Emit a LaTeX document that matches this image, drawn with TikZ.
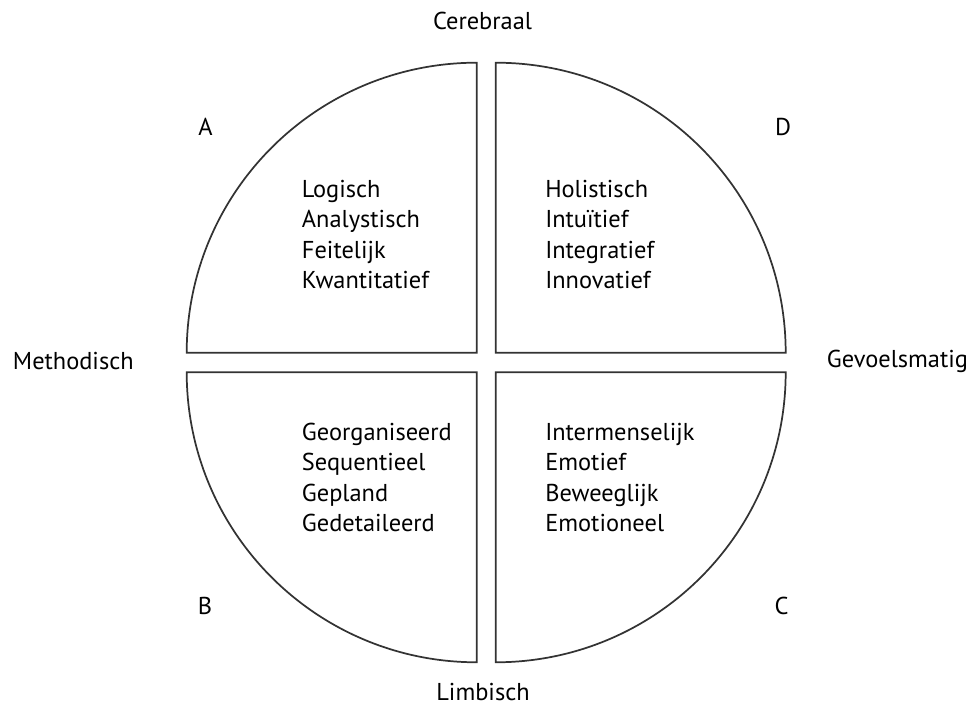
\documentclass[tikz,border=0pt]{standalone}
\usepackage{fontspec}
\setmainfont{PT Sans}
\begin{document}
\begin{tikzpicture}[x=0.75pt,y=0.75pt,
  quad/.style={draw=black!80,line width=1.3pt},
  lst/.style={anchor=north west,inner sep=0pt,align=left,font=\fontsize{18.3}{22.7}\selectfont},
  lbl/.style={anchor=base,inner sep=0pt,font=\fontsize{18.3}{21}\selectfont}]
\useasboundingbox (0,0) rectangle (976,707);
% quadrants
\draw[quad] (476.7,354.3) -- ++(-290,0) arc[start angle=180,end angle=90,radius=290] -- cycle;
\draw[quad] (495.7,354.3) -- ++(290,0) arc[start angle=0,end angle=90,radius=290] -- cycle;
\draw[quad] (476.7,334.7) -- ++(-290,0) arc[start angle=180,end angle=270,radius=290] -- cycle;
\draw[quad] (495.7,334.7) -- ++(290,0) arc[start angle=0,end angle=-90,radius=290] -- cycle;
% quadrant texts
\node[lst] (listA) at (301.7,527) {Logisch\\Analystisch\\Feitelijk\\Kwantitatief};
\node[lst] (listD) at (545,527) {Holistisch\\Intuïtief\\Integratief\\Innovatief};
\node[lst] (listB) at (301.7,284) {Georganiseerd\\Sequentieel\\Gepland\\Gedetaileerd};
\node[lst] (listC) at (545,284) {Intermenselijk\\Emotief\\Beweeglijk\\Emotioneel};
% letters
\node[lbl] (qA) at (205.5,571) {A};
\node[lbl] (qD) at (783,571) {D};
\node[lbl] (qB) at (205,92) {B};
\node[lbl] (qC) at (781.5,92) {C};
% axes
\node[lbl] (cerebraal) at (482.5,677) {Cerebraal};
\node[lbl] (limbisch) at (483,6) {Limbisch};
\node[lbl,anchor=base west] (methodisch) at (12.7,337) {Methodisch};
\node[lbl,anchor=base west] (gevoel) at (826.7,339) {Gevoelsmatig};
\end{tikzpicture}
\end{document}
